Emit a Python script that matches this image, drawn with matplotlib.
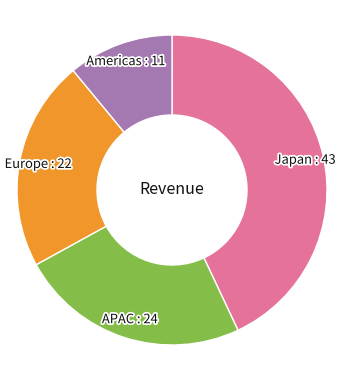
import matplotlib
matplotlib.use("Agg")
import matplotlib.pyplot as plt
import matplotlib.patheffects as pe
import numpy as np

plt.rcParams["font.family"] = ["Noto Sans CJK JP", "DejaVu Sans"]

regions = ["Japan", "APAC", "Europe", "Americas"]
revenue = [43, 24, 22, 11]
colours = ["#E5729A", "#84BE48", "#F0962A", "#A478B0"]

fig = plt.figure(figsize=(3.45, 3.8), dpi=100)
ax = fig.add_axes([17 / 345, 35 / 380, 310 / 345, 310 / 380])

wedges, _ = ax.pie(
    revenue, colors=colours, startangle=90, counterclock=False, radius=1.0,
    wedgeprops=dict(width=0.516, edgecolor="white", linewidth=1.0),
)
ax.set_xlim(-1, 1)
ax.set_ylim(-1, 1)
ax.set_aspect("equal")
ax.axis("off")

# labels sit near the outer edge of each wedge
label_r = 0.88
for w, name, val in zip(wedges, regions, revenue):
    mid = np.deg2rad((w.theta1 + w.theta2) / 2)
    x, y = label_r * np.cos(mid), label_r * np.sin(mid)
    ax.text(x, y, f"{name} : {val}", ha="center", va="center", fontsize=9.3,
            color="#111111",
            path_effects=[pe.withStroke(linewidth=2.5, foreground="white")])

ax.text(0, 0, "Revenue", ha="center", va="center", fontsize=11.5, color="#111111")

fig.savefig("out.png", dpi=100)
